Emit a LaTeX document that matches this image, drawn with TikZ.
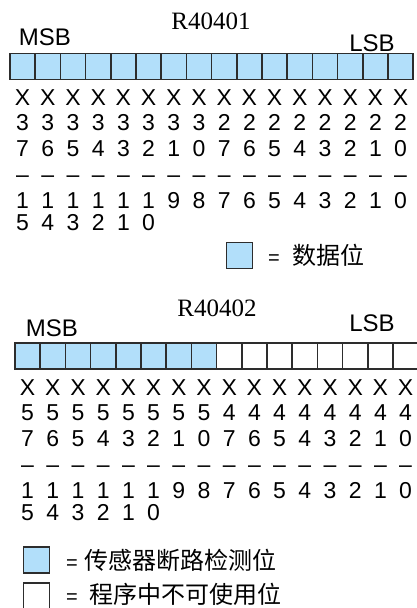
\documentclass[tikz,border=0pt]{standalone}
\usepackage{fontspec}
\setmainfont{Liberation Sans}
\newfontfamily\regfont{Liberation Serif}
\newfontfamily\cjk{Noto Sans CJK SC}
\usetikzlibrary{positioning}
\definecolor{bitblue}{RGB}{178,223,250}
\definecolor{edgegray}{RGB}{45,45,45}

\begin{document}
\begin{tikzpicture}[x=1pt, y=-1pt,
            bit/.style     ={rectangle, draw=edgegray, line width=1.6pt, inner sep=0pt,
                             minimum width=25.2pt, minimum height=26pt},
            databit/.style ={bit, fill=bitblue},
            freebit/.style ={bit, fill=white},
            digit/.style   ={anchor=base, inner sep=0pt, font=\fontsize{23}{23}\selectfont},
            endlbl/.style  ={inner sep=0pt, font=\fontsize{24}{24}\selectfont},
            regname/.style ={inner sep=0pt, font=\regfont\fontsize{25}{25}\selectfont},
            keybox/.style  ={rectangle, draw=edgegray, line width=1.6pt, inner sep=0pt,
                             minimum width=26pt, minimum height=26pt},
            keytext/.style ={anchor=west, inner sep=0pt, font=\fontsize{20}{20}\selectfont}
        ]
            \useasboundingbox (0,0) rectangle (417,608);

            % R40401
            \node[regname] (r1)    at (211,21) {R40401};
            \node[endlbl]  (r1msb) at (45,37)  {MSB};
            \node[endlbl]  (r1lsb) at (372,43) {LSB};
            \foreach \i in {1,...,16}
                \node[databit] (r1b\i) at ({10+25.2*(\i-0.5)},66.5) {};
            \foreach \d [count=\i] in {X,X,X,X,X,X,X,X,X,X,X,X,X,X,X,X}
                \node[digit] (r1x\i) at ({10+25.2*(\i-0.5)},105) {\d};
            \foreach \d [count=\i] in {3,3,3,3,3,3,3,3,2,2,2,2,2,2,2,2}
                \node[digit] (r1h\i) at ({10+25.2*(\i-0.5)},130) {\d};
            \foreach \d [count=\i] in {7,6,5,4,3,2,1,0,7,6,5,4,3,2,1,0}
                \node[digit] (r1l\i) at ({10+25.2*(\i-0.5)},156) {\d};
            \foreach \i in {1,...,16}
                \node[digit] (r1d\i) at ({10+25.2*(\i-0.5)},182) {--};
            \foreach \d [count=\i] in {1,1,1,1,1,1,9,8,7,6,5,4,3,2,1,0}
                \node[digit] (r1t\i) at ({10+25.2*(\i-0.5)},208) {\d};
            \foreach \d [count=\i] in {5,4,3,2,1,0}
                \node[digit] (r1u\i) at ({10+25.2*(\i-0.5)},230) {\d};
            \node[keybox, fill=bitblue] (key1) at (239.5,255.5) {};
            \node[keytext] (key1t) at (268,255.5) {=\hspace{13pt}{\cjk\fontsize{24}{24}\selectfont 数据位}};

            % R40402
            \node[regname] (r2)    at (217,308) {R40402};
            \node[endlbl]  (r2msb) at (52,328)  {MSB};
            \node[endlbl]  (r2lsb) at (372,323) {LSB};
            \foreach \i in {1,...,8}
                \node[databit] (r2b\i) at ({15+25.2*(\i-0.5)},356) {};
            \foreach \i in {9,...,16}
                \node[freebit] (r2b\i) at ({15+25.2*(\i-0.5)},356) {};
            \foreach \d [count=\i] in {X,X,X,X,X,X,X,X,X,X,X,X,X,X,X,X}
                \node[digit] (r2x\i) at ({15+25.2*(\i-0.5)},395) {\d};
            \foreach \d [count=\i] in {5,5,5,5,5,5,5,5,4,4,4,4,4,4,4,4}
                \node[digit] (r2h\i) at ({15+25.2*(\i-0.5)},420) {\d};
            \foreach \d [count=\i] in {7,6,5,4,3,2,1,0,7,6,5,4,3,2,1,0}
                \node[digit] (r2l\i) at ({15+25.2*(\i-0.5)},446) {\d};
            \foreach \i in {1,...,16}
                \node[digit] (r2d\i) at ({15+25.2*(\i-0.5)},472) {--};
            \foreach \d [count=\i] in {1,1,1,1,1,1,9,8,7,6,5,4,3,2,1,0}
                \node[digit] (r2t\i) at ({15+25.2*(\i-0.5)},498) {\d};
            \foreach \d [count=\i] in {5,4,3,2,1,0}
                \node[digit] (r2u\i) at ({15+25.2*(\i-0.5)},520) {\d};
            \node[keybox, fill=bitblue] (key2) at (36.5,560) {};
            \node[keytext] (key2t) at (66,560) {=\hspace{7pt}{\cjk\fontsize{24}{24}\selectfont 传感器断路检测位}};
            \node[keybox, fill=white] (key3) at (36.5,596) {};
            \node[keytext] (key3t) at (66,594) {=\hspace{12pt}{\cjk\fontsize{24}{24}\selectfont 程序中不可使用位}};
        \end{tikzpicture}
\end{document}
